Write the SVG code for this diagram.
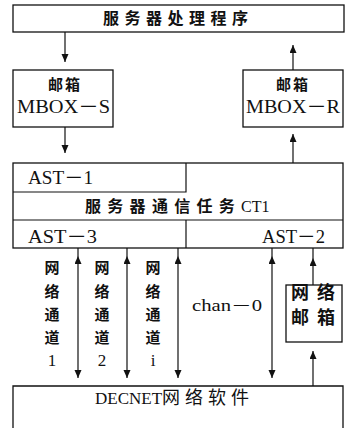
<svg xmlns="http://www.w3.org/2000/svg" width="350" height="428" viewBox="0 0 350 428">
<style>
.box{fill:#fff;stroke:#111;stroke-width:1.3}
.ln{stroke:#111;stroke-width:1.2;fill:none}
.cjk{font-family:"Noto Sans CJK SC",sans-serif;font-weight:bold;fill:#111}
.lat{font-family:"Liberation Serif","Noto Sans CJK SC",serif;fill:#111}
</style>
<defs>
<marker id="ah" markerUnits="userSpaceOnUse" markerWidth="8" markerHeight="8" refX="8" refY="3.5" orient="auto-start-reverse">
<path d="M0,0 L8,3.5 L0,7 z" fill="#111"/>
</marker>
</defs>
<rect width="350" height="428" fill="#fff"/>

<g id="top">
<rect class="box" x="13" y="5" width="331" height="27"/>
<text class="cjk" x="103" y="24" font-size="16" textLength="145">服务器处理程序</text>
</g>

<g id="mbox-s">
<rect class="box" x="13" y="70" width="100" height="57"/>
<text class="cjk" x="65" y="90" font-size="15" text-anchor="middle" letter-spacing="2">邮箱</text>
<text class="lat" x="17" y="113" font-size="18" textLength="93" lengthAdjust="spacingAndGlyphs">MBOX－S</text>
</g>

<g id="mbox-r">
<rect class="box" x="243" y="70" width="100" height="57"/>
<text class="cjk" x="293" y="90" font-size="15" text-anchor="middle" letter-spacing="2">邮箱</text>
<text class="lat" x="246" y="113" font-size="18" textLength="94" lengthAdjust="spacingAndGlyphs">MBOX－R</text>
</g>

<g id="ct1">
<rect class="box" x="13" y="163" width="330" height="85"/>
<path class="ln" d="M13,192 H186 V163 M13,220 H343 M186,220 V248"/>
<text class="lat" x="28" y="184" font-size="18" textLength="65" lengthAdjust="spacingAndGlyphs">AST－1</text>
<text class="cjk" x="85" y="212" font-size="16"><tspan letter-spacing="6.3">服务器通信任务</tspan><tspan font-family="Liberation Serif" font-weight="normal">CT1</tspan></text>
<text class="lat" x="28" y="243" font-size="18" textLength="69" lengthAdjust="spacingAndGlyphs">AST－3</text>
<text class="lat" x="262" y="243" font-size="18" textLength="63" lengthAdjust="spacingAndGlyphs">AST－2</text>
</g>

<g id="net-mbox">
<rect class="box" x="286" y="285" width="56" height="57"/>
<text class="cjk" x="291" y="299" font-size="18" textLength="44">网络</text>
<text class="cjk" x="291" y="324" font-size="18" textLength="44">邮箱</text>
</g>

<g id="decnet">
<path class="box" d="M13,430 V386 H343 V430"/>
<text class="lat" x="95" y="404" font-size="17">DECNET<tspan font-family="Noto Sans CJK SC" font-size="18" letter-spacing="5">网络软件</tspan></text>
</g>

<g id="labels">
<text class="cjk" font-size="15" text-anchor="middle"><tspan x="52" y="273">网</tspan><tspan x="52" y="297">络</tspan><tspan x="52" y="320">通</tspan><tspan x="52" y="343">道</tspan><tspan class="lat" font-weight="normal" font-size="17" x="52" y="366">1</tspan></text>
<text class="cjk" font-size="15" text-anchor="middle" fill="#333"><tspan x="102" y="273">网</tspan><tspan x="102" y="297">络</tspan><tspan x="102" y="320">通</tspan><tspan x="102" y="343">道</tspan><tspan class="lat" font-weight="normal" font-size="17" x="102" y="366">2</tspan></text>
<text class="cjk" font-size="15" text-anchor="middle" fill="#333"><tspan x="153" y="273">网</tspan><tspan x="153" y="297">络</tspan><tspan x="153" y="320">通</tspan><tspan x="153" y="343">道</tspan><tspan class="lat" font-weight="normal" font-size="17" x="153" y="366">i</tspan></text>
<text class="lat" x="192" y="311" font-size="16" textLength="70" lengthAdjust="spacingAndGlyphs">chan－0</text>
</g>

<g id="connectors">
<line class="ln" x1="65" y1="32" x2="65" y2="62" marker-end="url(#ah)"/>
<line class="ln" x1="65" y1="127" x2="65" y2="153" marker-end="url(#ah)"/>
<line class="ln" x1="293" y1="70" x2="293" y2="45" marker-end="url(#ah)"/>
<line class="ln" x1="293" y1="163" x2="293" y2="134" marker-end="url(#ah)"/>
<path class="ln" d="M78,248 V256 M127,248 V256 M178,248 V256 M272,248 V256 M313,248 V258"/>
<line class="ln" x1="78" y1="256" x2="78" y2="378" marker-start="url(#ah)" marker-end="url(#ah)"/>
<line class="ln" x1="127" y1="256" x2="127" y2="378" marker-start="url(#ah)" marker-end="url(#ah)"/>
<line class="ln" x1="178" y1="256" x2="178" y2="378" marker-start="url(#ah)" marker-end="url(#ah)"/>
<line class="ln" x1="272" y1="256" x2="272" y2="378" marker-start="url(#ah)" marker-end="url(#ah)"/>
<line class="ln" x1="313" y1="285" x2="313" y2="258" marker-end="url(#ah)"/>
<line class="ln" x1="313" y1="386" x2="313" y2="351" marker-end="url(#ah)"/>
</g>
</svg>
